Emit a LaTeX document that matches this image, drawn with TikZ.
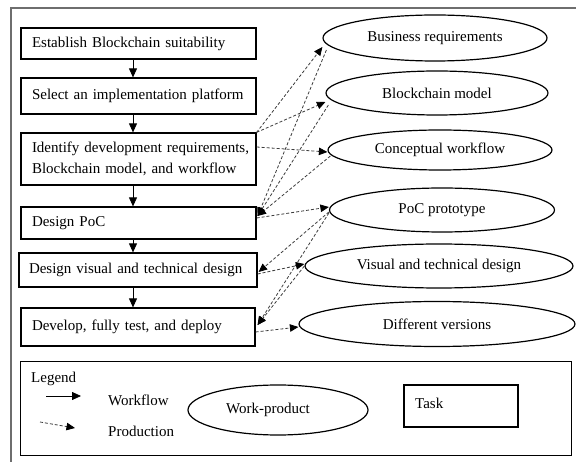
\documentclass[tikz,border=0pt]{standalone}
\usepackage{fontspec}
\setmainfont{Liberation Serif}
\usetikzlibrary{shapes.geometric,arrows.meta}
\definecolor{frame}{RGB}{110,110,110}
\definecolor{prodc}{RGB}{60,60,60}
\hbadness=10000
\hfuzz=50pt
\begin{document}
\begin{tikzpicture}[x=1pt,y=-1pt,
  every node/.style={font=\fontsize{15}{21}\selectfont},
  task/.style={draw,line width=1.2pt,rectangle,align=left,inner xsep=11pt,inner ysep=0pt},
  wp/.style={draw,line width=1.2pt,ellipse,inner sep=0pt},
  flow/.style={-{Triangle[length=9pt,width=8pt]},line width=0.8pt},
  prod/.style={-{Triangle[length=8.5pt,width=7.5pt,color=black]},dash pattern=on 3pt off 2pt,line width=0.8pt,draw=prodc},
  lbl/.style={anchor=west,inner sep=0pt}]
\useasboundingbox (0,0) rectangle (576,462);
\fill[white] (0,0) rectangle (576,462);
\draw[frame,line width=1.8pt] (580,8) -- (11,8) -- (11,470);

% tasks
\node[task,text width=213pt,minimum height=31pt] (b1) at (138.5,43.5) {Establish Blockchain suitability};
\node[task,text width=213pt,minimum height=36pt] (b2) at (138.5,96) {Select an implementation platform};
\node[task,text width=213pt,minimum height=52pt] (b3) at (138.5,159) {\mbox{Identify development requirements,}\\\mbox{Blockchain model, and workflow}};
\node[task,text width=213pt,minimum height=32pt] (b4) at (138.5,223) {Design PoC};
\node[task,text width=218pt,minimum height=34pt,inner xsep=10pt] (b5) at (138,270) {Design visual and technical design};
\node[task,text width=212pt,minimum height=38pt,inner xsep=11pt] (b6) at (138,327) {Develop, fully test, and deploy};

% work products
\node[wp,minimum width=224pt,minimum height=46pt] (br) at (435,38) {Business requirements};
\node[wp,minimum width=222pt,minimum height=44pt] (bm) at (437,93) {Blockchain model};
\node[wp,minimum width=224pt,minimum height=40pt] (cw) at (440,150) {Conceptual workflow};
\node[wp,minimum width=225pt,minimum height=44pt] (pp) at (442,210) {PoC prototype};
\node[wp,minimum width=268pt,minimum height=44pt] (vt) at (439,266) {Visual and technical design};
\node[wp,minimum width=276pt,minimum height=45pt] (dv) at (437,324) {Different versions};

% workflow arrows
\draw[flow] ([xshift=-5.5pt]b1.south) -- ([xshift=-5.5pt]b2.north);
\draw[flow] ([xshift=-5.5pt]b2.south) -- ([xshift=-5.5pt]b3.north);
\draw[flow] ([xshift=-5.5pt]b3.south) -- ([xshift=-5.5pt]b4.north);
\draw[flow] ([xshift=-5.5pt]b4.south) -- ([xshift=-5pt]b5.north);
\draw[flow] ([xshift=-5pt]b5.south) -- ([xshift=-5pt]b6.north);

% production arrows
\draw[prod] (b3.north east) -- ([yshift=-9pt]br.west);
\draw[prod] (b3.north east) -- ([yshift=-9pt]bm.west);
\draw[prod] ([yshift=12pt]b3.east) -- ([yshift=-2pt]cw.west);
\draw[prod] ([xshift=4pt,yshift=-12pt]br.west) -- ([xshift=1pt,yshift=7pt]b4.east);
\draw[prod] ([xshift=3pt,yshift=-12pt]bm.west) -- ([xshift=1pt,yshift=7pt]b4.east);
\draw[prod] ([xshift=3pt,yshift=-6pt]cw.west) -- ([xshift=1pt,yshift=7pt]b4.east);
\draw[prod] ([yshift=5pt]b4.east) -- ([yshift=3pt]pp.west);
\draw[prod] ([yshift=-2pt]pp.west) -- ([xshift=1pt,yshift=-2pt]b5.east);
\draw[prod] ([yshift=-3pt]pp.west) -- ([xshift=2pt,yshift=2pt]b6.east);
\draw[prod] ([yshift=-4pt]b5.east) -- ([yshift=2pt]vt.west);
\draw[prod] (vt.west) -- ([xshift=2pt,yshift=2pt]b6.east);
\draw[prod] ([yshift=-5pt]b6.east) -- ([yshift=-3pt]dv.west);

% legend
\node[draw,line width=1pt,minimum width=551pt,minimum height=93pt,inner sep=0pt] (leg) at (295.5,408.5) {};
\node[lbl] (lgt) at (31,379) {Legend};
\coordinate (wfa) at (46,396);
\coordinate (wfb) at (81,396);
\draw[flow] (wfa) -- (wfb);
\node[lbl] (wft) at (108,400) {Workflow};
\coordinate (pra) at (40,422);
\coordinate (prb) at (75,428);
\draw[prod] (pra) -- (prb);
\node[lbl] (prt) at (108,431) {Production};
\node[wp,minimum width=180pt,minimum height=50pt] (wpl) at (278,410) {\hspace*{-20pt}Work-product};
\node[draw,line width=1.2pt,minimum width=114pt,minimum height=42pt,inner sep=0pt] (tk) at (461,406) {};
\node[lbl] (tkt) at (415,403) {Task};
\end{tikzpicture}
\end{document}
